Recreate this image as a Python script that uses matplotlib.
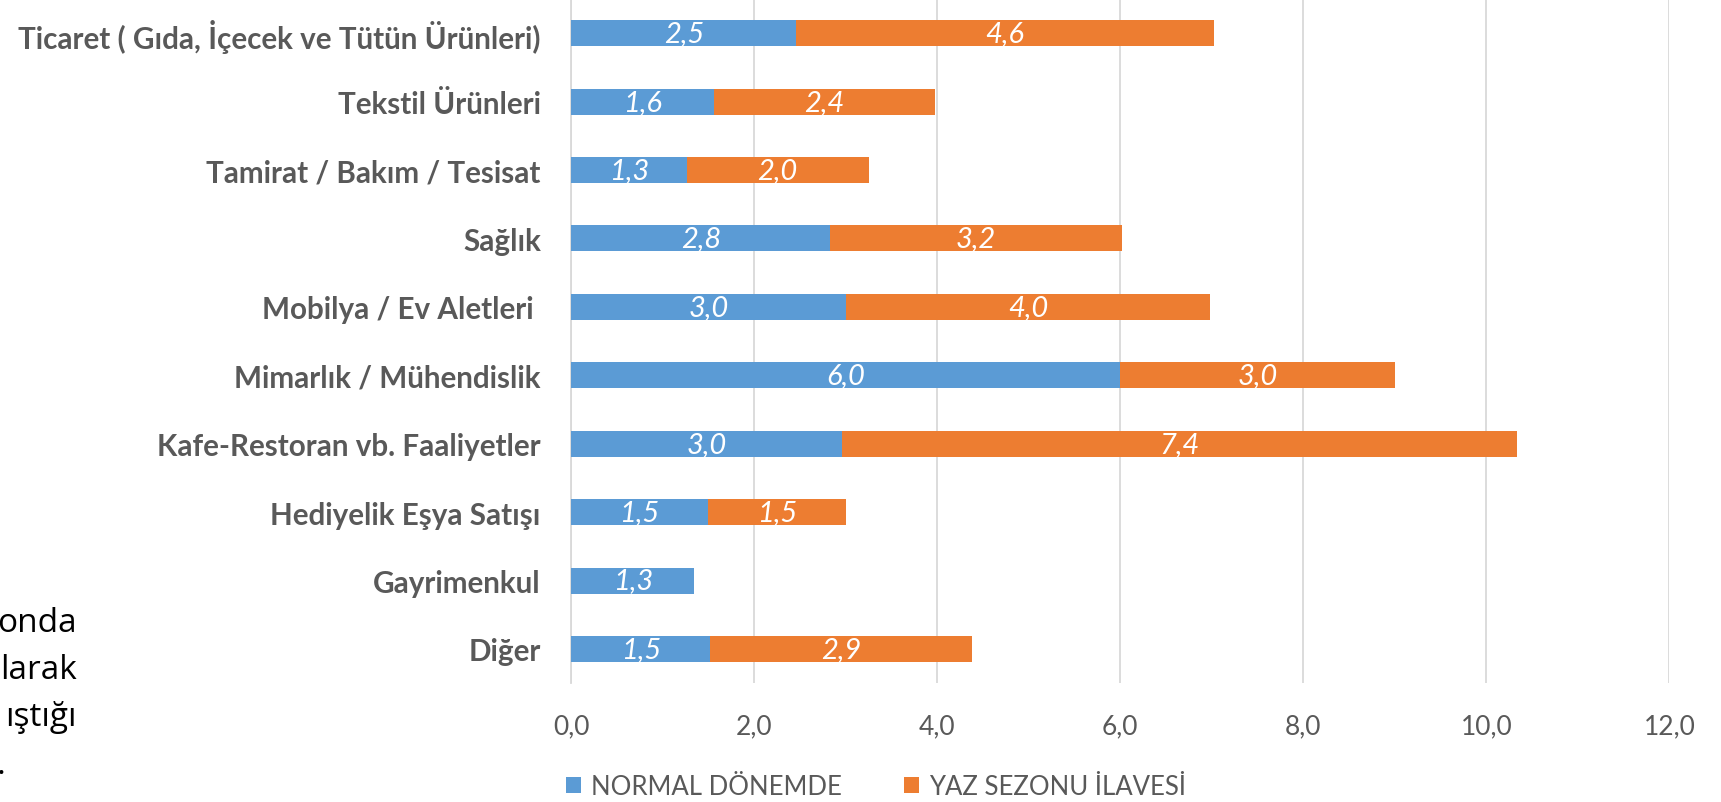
import matplotlib.pyplot as plt
import numpy as np

plt.rcParams["font.family"] = ["Lato", "DejaVu Sans"]

# data
categories = [
    "Ticaret ( Gıda, İçecek ve Tütün Ürünleri)",
    "Tekstil Ürünleri",
    "Tamirat / Bakım / Tesisat",
    "Sağlık",
    "Mobilya / Ev Aletleri ",
    "Mimarlık / Mühendislik",
    "Kafe-Restoran vb. Faaliyetler",
    "Hediyelik Eşya Satışı",
    "Gayrimenkul",
    "Diğer",
]
normal = [2.46, 1.56, 1.26, 2.83, 3.0, 6.0, 2.96, 1.49, 1.34, 1.52]
yaz = [4.56, 2.41, 1.99, 3.19, 3.98, 3.0, 7.38, 1.51, 0.0, 2.86]
series_names = ["NORMAL DÖNEMDE", "YAZ SEZONU İLAVESİ"]
xticks = [0, 2, 4, 6, 8, 10, 12]
side_words = ["onda", "larak", "ıştığı"]

BLUE = "#5B9BD5"
ORANGE = "#ED7D31"
GRAY = "#595959"

fig = plt.figure(figsize=(17.21, 8.03), dpi=100)
ax = fig.add_axes([0.332, 0.148, 0.638, 0.852])

y = np.arange(len(categories))
h = 0.38
b1 = ax.barh(y, normal, height=h, color=BLUE, label=series_names[0], zorder=3)
b2 = ax.barh(y, yaz, left=normal, height=h, color=ORANGE, label=series_names[1], zorder=3)

for bars in (b1, b2):
    for rect in bars:
        w = rect.get_width()
        if w <= 0:
            continue
        ax.text(rect.get_x() + w / 2, rect.get_y() + rect.get_height() / 2,
                f"{w:.1f}".replace(".", ","), ha="center", va="center",
                color="white", fontsize=21, fontstyle="italic", zorder=4)

ax.set_ylim(len(categories) - 0.5, -0.5)
ax.set_xlim(0, 12)
ax.set_xticks(xticks)
ax.set_xticklabels([f"{t:.1f}".replace(".", ",") for t in xticks])
ax.set_yticks(y)
ax.set_yticklabels(categories, fontweight="bold")
ax.tick_params(axis="y", length=0, pad=22, labelsize=21.3, labelcolor=GRAY)
ax.tick_params(axis="x", length=0, pad=22, labelsize=19, labelcolor=GRAY)

ax.grid(axis="x", color="#D9D9D9", linewidth=1.3, zorder=0)
for s in ["top", "right", "bottom"]:
    ax.spines[s].set_visible(False)
ax.spines["left"].set_color("#D9D9D9")
ax.spines["left"].set_linewidth(1.3)

fig.legend(loc="center", bbox_to_anchor=(0.509, 0.019), ncol=2, frameon=False,
           fontsize=18.5, labelcolor=GRAY, handlelength=0.6, handleheight=0.6,
           columnspacing=2.4, handletextpad=0.4)

# cut-off words of the surrounding document text
for i, w in enumerate(side_words):
    fig.text(0.0445, 1 - (624 + i * 47) / 803, w, ha="right", va="center",
             fontsize=24, color="black", family=["Open Sans", "DejaVu Sans"])
fig.text(-0.002, 1 - 766 / 803, ".", ha="left", va="center", fontsize=24,
         color="black", family=["Open Sans", "DejaVu Sans"])

fig.savefig("out.png", dpi=100)
